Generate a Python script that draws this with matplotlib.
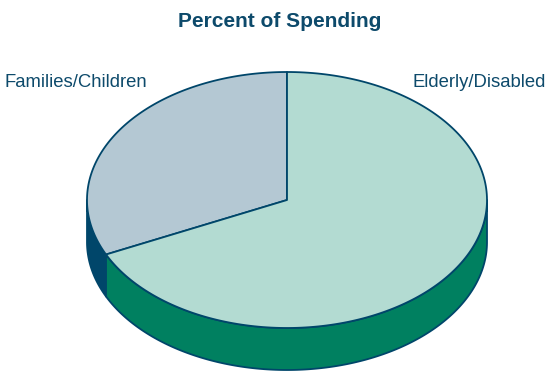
import matplotlib.pyplot as plt
import numpy as np
from matplotlib.patches import Polygon

# Spending shares
labels = ["Families/Children", "Elderly/Disabled"]
shares = [32, 68]
top_colors = ["#b4c8d3", "#b3dbd2"]
side_colors = ["#00466a", "#008060"]
edge = "#00466a"

# Pie geometry in pixel units (y grows downward)
cx, cy = 287, 200
rx, ry = 200, 128
depth = 42

fig = plt.figure(figsize=(5.47, 3.71), dpi=100)
ax = fig.add_axes([0, 0, 1, 1])
ax.set_xlim(0, 547)
ax.set_ylim(371, 0)
ax.axis("off")


def arc(a0, a1, dy=0, n=200):
    t = np.radians(np.linspace(a0, a1, n))
    return np.column_stack([cx + rx * np.cos(t), cy + dy - ry * np.sin(t)])


# slice angle ranges, counterclockwise from 12 o'clock
bounds = []
start = 90.0
for s in shares:
    span = 360.0 * s / sum(shares)
    bounds.append((start, start + span))
    start += span

# side walls (only the front half, 180..360 degrees, is visible)
for (a0, a1), col in zip(bounds, side_colors):
    for off in (0, 360, -360):
        lo, hi = max(a0 + off, 180), min(a1 + off, 360)
        if hi > lo:
            top = arc(lo, hi)
            bot = arc(hi, lo, dy=depth)
            ax.add_patch(Polygon(np.vstack([top, bot]), closed=True,
                                 facecolor=col, edgecolor=edge, lw=1.3,
                                 joinstyle="round"))

# top faces
for (a0, a1), col in zip(bounds, top_colors):
    pts = np.vstack([[cx, cy], arc(a0, a1)])
    ax.add_patch(Polygon(pts, closed=True, facecolor=col, edgecolor=edge,
                         lw=1.3, joinstyle="round"))

ax.text(279.5, 27, "Percent of Spending", ha="center", va="baseline",
        fontsize=15, fontweight="bold", color="#0d4a6b",
        family="Liberation Sans")
ax.text(5, 87, labels[0], ha="left", va="baseline", fontsize=13.3,
        color="#0d4a6b", family="Liberation Sans")
ax.text(546, 87, labels[1], ha="right", va="baseline", fontsize=13.3,
        color="#0d4a6b", family="Liberation Sans")

fig.savefig("out.png", dpi=100)
